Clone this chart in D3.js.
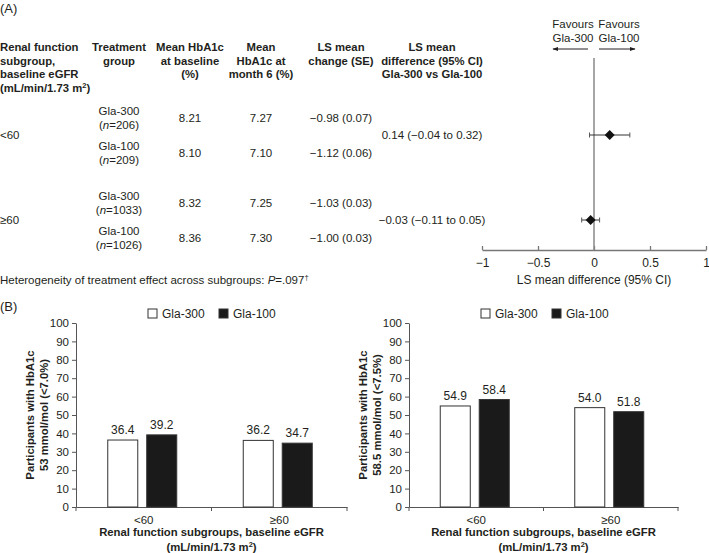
<!DOCTYPE html>
<html>
<head>
<meta charset="utf-8">
<script src="https://cdn.jsdelivr.net/npm/d3@7"></script>
<style>
body{margin:0;background:#fff;}
svg{display:block;font-family:"Liberation Sans",Arial,sans-serif;}
</style>
</head>
<body>
<svg id="chart" width="709" height="553"></svg>
<script>
// ---------- DATA ----------
const subgroups = ["<60", "≥60"];
const treatments = ["Gla-300", "Gla-100"];
const nValues = [[206, 209], [1033, 1026]];
const baselineHbA1c = [[8.21, 8.10], [8.32, 8.36]];
const month6HbA1c = [[7.27, 7.10], [7.25, 7.30]];
const lsChange = [[-0.98, -1.12], [-1.03, -1.00]];
const lsChangeSE = [[0.07, 0.06], [0.03, 0.03]];
const lsDiff = [0.14, -0.03];
const lsDiffLow = [-0.04, -0.11];
const lsDiffHigh = [0.32, 0.05];
const forestTicks = [-1, -0.5, 0, 0.5, 1];
const barCategories = ["<60", "≥60"];
const pct70Gla300 = [36.4, 36.2];
const pct70Gla100 = [39.2, 34.7];
const pct75Gla300 = [54.9, 54.0];
const pct75Gla100 = [58.4, 51.8];
const barYTicks = [0, 10, 20, 30, 40, 50, 60, 70, 80, 90, 100];

// ---------- SETUP ----------
const svg = d3.select("#chart");
const ink = "#231f20";
const f2 = d3.format(".2f");

function txt(g, x, y, s, opts = {}) {
  const t = g.append("text").attr("x", x).attr("y", y)
    .attr("fill", ink)
    .attr("font-size", opts.size || 11.5)
    .attr("font-weight", opts.bold ? "bold" : "normal")
    .attr("text-anchor", opts.anchor || "start");
  if (s !== null) t.text(s);
  return t;
}

// Panel labels
txt(svg, 0, 13, "(A)", {size: 13});
txt(svg, 0, 311, "(B)", {size: 13});

// ---------- TABLE (A) ----------
const headers = [
  {x: 0, anchor: "start", lines: ["Renal function", "subgroup,", "baseline eGFR", null]},
  {x: 119, anchor: "middle", lines: ["Treatment", "group"]},
  {x: 190, anchor: "middle", lines: ["Mean HbA1c", "at baseline", "(%)"]},
  {x: 261, anchor: "middle", lines: ["Mean", "HbA1c at", "month 6 (%)"]},
  {x: 341, anchor: "middle", lines: ["LS mean", "change (SE)"]},
  {x: 432, anchor: "middle", lines: ["LS mean", "difference (95% CI)", "Gla-300 vs Gla-100"]}
];
const headerBase = 51, lineH = 13.7;
headers.forEach(h => {
  h.lines.forEach((l, i) => {
    if (l === null) {
      const t = txt(svg, h.x, headerBase + i * lineH, null, {bold: true, size: 11.3, anchor: h.anchor});
      t.append("tspan").text("(mL/min/1.73 m");
      t.append("tspan").attr("font-size", 7.5).attr("dy", -4).text("2");
      t.append("tspan").attr("dy", 4).text(")");
    } else {
      txt(svg, h.x, headerBase + i * lineH, l, {bold: true, size: 11.3, anchor: h.anchor});
    }
  });
});

const groupY = d3.scaleLinear().domain([0, 1]).range([135, 220]);
const rowOffset = d3.scaleOrdinal().domain([0, 1]).range([-17.5, 17.5]);

subgroups.forEach((sg, gi) => {
  const gy = groupY(gi);
  txt(svg, 0, gy + 4, sg);
  treatments.forEach((tr, ti) => {
    const ry = gy + rowOffset(ti);
    txt(svg, 119, ry - 3, tr, {anchor: "middle"});
    const t = txt(svg, 119, ry + 11, null, {anchor: "middle"});
    t.append("tspan").text("(");
    t.append("tspan").attr("font-style", "italic").text("n");
    t.append("tspan").text("=" + nValues[gi][ti] + ")");
    txt(svg, 190, ry + 4, f2(baselineHbA1c[gi][ti]), {anchor: "middle"});
    txt(svg, 261, ry + 4, f2(month6HbA1c[gi][ti]), {anchor: "middle"});
    txt(svg, 341, ry + 4, f2(lsChange[gi][ti]) + " (" + f2(lsChangeSE[gi][ti]) + ")", {anchor: "middle"});
  });
  txt(svg, 432, gy + 4, f2(lsDiff[gi]) + " (" + f2(lsDiffLow[gi]) + " to " + f2(lsDiffHigh[gi]) + ")", {anchor: "middle"});
});

// Heterogeneity
{
  const t = txt(svg, 0, 284, null);
  t.append("tspan").text("Heterogeneity of treatment effect across subgroups: ");
  t.append("tspan").attr("font-style", "italic").text("P");
  t.append("tspan").text("=.097");
  t.append("tspan").attr("font-size", 7.5).attr("dy", -4).text("†");
}

// ---------- FOREST ----------
const fx = d3.scaleLinear().domain([-1, 1]).range([482, 706]);
const axisY = 250;
const defs = svg.append("defs");
defs.append("marker").attr("id", "ah").attr("viewBox", "0 0 10 10")
  .attr("refX", 9).attr("refY", 5).attr("markerWidth", 6).attr("markerHeight", 6)
  .attr("orient", "auto-start-reverse")
  .append("path").attr("d", "M0,1.5 L10,5 L0,8.5 Z").attr("fill", ink);

const fa = svg.append("g").attr("transform", `translate(0,${axisY})`)
  .call(d3.axisBottom(fx).tickValues(forestTicks).tickFormat(d3.format("~g")).tickSizeOuter(0).tickSizeInner(0).tickPadding(8));
fa.select(".domain").attr("stroke", "#777").attr("stroke-width", 1.3);
fa.selectAll(".tick line").attr("y1", -4).attr("y2", 0).attr("stroke", "#777").attr("stroke-width", 1.3);
fa.selectAll(".tick text").attr("font-size", 12).attr("fill", ink).attr("font-family", "Liberation Sans, Arial, sans-serif");

txt(svg, fx(0), 284, "LS mean difference (95% CI)", {anchor: "middle", size: 12});

// zero line
svg.append("line").attr("x1", fx(0)).attr("x2", fx(0)).attr("y1", 58).attr("y2", axisY)
  .attr("stroke", "#888").attr("stroke-width", 1.5);

// favours
txt(svg, fx(0) - 21, 28, "Favours", {anchor: "middle", size: 11.5});
txt(svg, fx(0) - 21, 42, "Gla-300", {anchor: "middle", size: 11.5});
txt(svg, fx(0) + 25, 28, "Favours", {anchor: "middle", size: 11.5});
txt(svg, fx(0) + 25, 42, "Gla-100", {anchor: "middle", size: 11.5});
svg.append("line").attr("x1", fx(0) - 6).attr("x2", fx(0) - 41).attr("y1", 49).attr("y2", 49)
  .attr("stroke", ink).attr("stroke-width", 1).attr("marker-end", "url(#ah)");
svg.append("line").attr("x1", fx(0) + 5).attr("x2", fx(0) + 41).attr("y1", 49).attr("y2", 49)
  .attr("stroke", ink).attr("stroke-width", 1).attr("marker-end", "url(#ah)");

// CI and diamonds
subgroups.forEach((sg, gi) => {
  const gy = groupY(gi);
  const g = svg.append("g");
  g.append("line").attr("x1", fx(lsDiffLow[gi])).attr("x2", fx(lsDiffHigh[gi])).attr("y1", gy).attr("y2", gy)
    .attr("stroke", "#333").attr("stroke-width", 1);
  [lsDiffLow[gi], lsDiffHigh[gi]].forEach(v => {
    g.append("line").attr("x1", fx(v)).attr("x2", fx(v)).attr("y1", gy - 2.5).attr("y2", gy + 2.5)
      .attr("stroke", "#555").attr("stroke-width", 1);
  });
  const cx = fx(lsDiff[gi]);
  g.append("path").attr("d", `M${cx - 5},${gy} L${cx},${gy - 5} L${cx + 5},${gy} L${cx},${gy + 5} Z`).attr("fill", "#111");
});

// ---------- BAR CHARTS (B) ----------
function barChart(cfg) {
  const g = svg.append("g");
  const y = d3.scaleLinear().domain([0, 100]).range([507, 323]);
  const x = d3.scaleBand().domain(barCategories).range([cfg.x0, cfg.x1]).padding(0);
  const xs = d3.scaleBand().domain(treatments).paddingInner(0.23).paddingOuter(0);

  // y axis
  const ya = g.append("g").attr("transform", `translate(${cfg.x0},0)`)
    .call(d3.axisLeft(y).tickValues(barYTicks).tickSizeOuter(0).tickSizeInner(4).tickPadding(3));
  ya.select(".domain").attr("stroke", "#555");
  ya.selectAll(".tick line").attr("stroke", "#555");
  ya.selectAll(".tick text").attr("font-size", 11.5).attr("fill", ink).attr("font-family", "Liberation Sans, Arial, sans-serif");

  // x axis
  const xa = g.append("g").attr("transform", `translate(0,${y(0)})`)
    .call(d3.axisBottom(x).tickSize(0).tickPadding(9));
  xa.select(".domain").attr("stroke", "#555");
  xa.selectAll(".tick text").attr("font-size", 11.5).attr("fill", ink).attr("font-family", "Liberation Sans, Arial, sans-serif");
  const bounds = [cfg.x0].concat(barCategories.map(c => x(c) + x.bandwidth()));
  g.selectAll(".xb").data(bounds).join("line")
    .attr("x1", d => d).attr("x2", d => d).attr("y1", y(0)).attr("y2", y(0) + 4).attr("stroke", "#555");

  // bars
  barCategories.forEach((c, ci) => {
    const cx = x(c) + x.bandwidth() / 2 - 1.5;
    xs.range([cx - 34.5, cx + 34.5]);
    treatments.forEach((t, ti) => {
      const v = cfg.series[ti][ci];
      g.append("rect").attr("x", xs(t)).attr("y", y(v)).attr("width", xs.bandwidth()).attr("height", y(0) - y(v))
        .attr("fill", ti === 0 ? "#fff" : "#1a1a1a").attr("stroke", "#333").attr("stroke-width", 1);
      txt(g, xs(t) + xs.bandwidth() / 2, y(v) - 6, v.toFixed(1), {anchor: "middle", size: 12});
    });
  });

  // legend
  treatments.forEach((t, ti) => {
    const lx = cfg.legendX + ti * 71;
    g.append("rect").attr("x", lx).attr("y", 309).attr("width", 9).attr("height", 9)
      .attr("fill", ti === 0 ? "#fff" : "#1a1a1a").attr("stroke", "#333");
    txt(g, lx + 14, 318, t, {size: 12});
  });

  // y title
  const yt = g.append("text").attr("transform", `translate(${cfg.x0 - 42},415) rotate(-90)`)
    .attr("text-anchor", "middle").attr("font-size", 11.3).attr("font-weight", "bold").attr("fill", ink);
  yt.append("tspan").attr("x", 0).attr("y", 0).text("Participants with HbA1c");
  yt.append("tspan").attr("x", 0).attr("y", 13.5).text(cfg.yLabel2);

  // x title
  const mid = (cfg.x0 + cfg.x1) / 2;
  txt(g, mid, 536, "Renal function subgroups, baseline eGFR", {anchor: "middle", bold: true, size: 11.3});
  const t2 = txt(g, mid, 551, null, {anchor: "middle", bold: true, size: 11.3});
  t2.append("tspan").text("(mL/min/1.73 m");
  t2.append("tspan").attr("font-size", 7.5).attr("dy", -4).text("2");
  t2.append("tspan").attr("dy", 4).text(")");
}

barChart({x0: 76, x1: 347, legendX: 148, series: [pct70Gla300, pct70Gla100], yLabel2: "53 mmol/mol (<7.0%)"});
barChart({x0: 409, x1: 678, legendX: 481, series: [pct75Gla300, pct75Gla100], yLabel2: "58.5 mmol/mol (<7.5%)"});
</script>
</body>
</html>
